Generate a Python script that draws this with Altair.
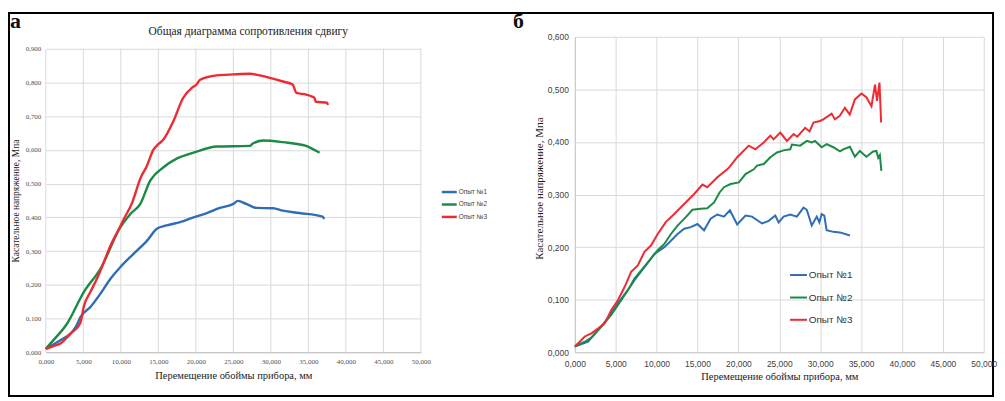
import altair as alt
import pandas as pd

series = ["Опыт №1", "Опыт №2", "Опыт №3"]
colors = ["#2F6DB5", "#1C8A47", "#EE2B33"]

# ---------- panel а (smooth curves) ----------
a1_x = [0, 1.99, 3.32, 4.0, 4.64, 5.97, 7.29, 8.62, 9.95, 11.7, 13.5, 14.8, 16.1, 17.9, 19.7, 21.4, 23.2, 25.0, 25.6, 26.7, 27.2, 28.1, 30.3, 31.6, 33.8, 36.9, 37.1]
a1_y = [0.010, 0.036, 0.056, 0.075, 0.105, 0.135, 0.174, 0.218, 0.253, 0.292, 0.331, 0.366, 0.376, 0.386, 0.400, 0.412, 0.428, 0.440, 0.449, 0.440, 0.435, 0.428, 0.427, 0.420, 0.413, 0.402, 0.395]

a2_x = [0, 0.66, 2.87, 5.08, 7.3, 9.95, 11.27, 12.6, 13.9, 15.65, 17.5, 19.7, 22.8, 27.2, 27.6, 29.0, 31.6, 34.7, 35.8, 36.5]
a2_y = [0.010, 0.027, 0.086, 0.179, 0.248, 0.371, 0.410, 0.440, 0.508, 0.548, 0.575, 0.592, 0.610, 0.612, 0.619, 0.628, 0.623, 0.612, 0.600, 0.592]

a3_x = [0, 1.0, 2.0, 3.3, 4.6, 5.08, 5.97, 6.86, 7.7, 8.6, 9.5, 10.4, 11.5, 12.6, 13.5, 14.33, 14.9, 15.65, 17.0, 18.3, 19.5, 20.1, 20.56, 22.8, 25.0, 27.2, 28.5, 30.0, 31.6, 32.9, 33.4, 34.7, 35.5, 35.8, 36.0, 37.5, 37.6]
a3_y = [0.010, 0.018, 0.027, 0.055, 0.087, 0.137, 0.180, 0.220, 0.265, 0.315, 0.355, 0.395, 0.443, 0.515, 0.554, 0.600, 0.615, 0.630, 0.685, 0.754, 0.785, 0.794, 0.808, 0.821, 0.824, 0.826, 0.821, 0.813, 0.803, 0.794, 0.769, 0.764, 0.758, 0.754, 0.743, 0.740, 0.733]

# ---------- panel б (noisy curves) ----------
b1_x = [0, 1.62, 3.24, 4.45, 5.26, 6.48, 7.29, 8.51, 9.72, 10.94, 11.75, 12.56, 13.37, 14.18, 14.99, 15.8, 16.6, 17.42, 18.23, 18.96, 19.85, 20.87, 21.67, 22.89, 23.7, 24.51, 24.92, 25.53, 26.34, 27.15, 27.96, 28.36, 28.97, 29.58, 29.9, 30.18, 30.5, 30.79, 31.6, 32.42, 33.63]
b1_y = [0.011, 0.020, 0.049, 0.074, 0.093, 0.118, 0.137, 0.162, 0.187, 0.200, 0.212, 0.225, 0.235, 0.238, 0.244, 0.232, 0.254, 0.262, 0.258, 0.270, 0.243, 0.260, 0.258, 0.245, 0.250, 0.260, 0.247, 0.258, 0.262, 0.258, 0.275, 0.271, 0.241, 0.258, 0.247, 0.263, 0.260, 0.232, 0.229, 0.228, 0.222]

b2_x = [0, 1.22, 2.03, 3.24, 4.45, 5.67, 6.48, 7.29, 8.3, 9.31, 10.13, 10.94, 11.75, 12.56, 13.57, 14.38, 15.39, 16.2, 17.02, 17.7, 18.23, 19.04, 20.06, 20.87, 21.88, 22.28, 23.1, 23.9, 24.72, 25.53, 26.34, 26.54, 27.55, 28.36, 28.97, 29.38, 30.18, 30.79, 31.6, 32.42, 32.82, 33.63, 34.24, 34.85, 35.65, 36.47, 36.87, 37.1, 37.3, 37.48]
b2_y = [0.011, 0.020, 0.028, 0.049, 0.071, 0.099, 0.118, 0.140, 0.159, 0.178, 0.194, 0.206, 0.225, 0.241, 0.257, 0.271, 0.273, 0.274, 0.285, 0.304, 0.314, 0.320, 0.323, 0.339, 0.348, 0.355, 0.358, 0.371, 0.380, 0.384, 0.386, 0.395, 0.393, 0.402, 0.399, 0.402, 0.390, 0.396, 0.390, 0.382, 0.386, 0.391, 0.372, 0.383, 0.372, 0.382, 0.383, 0.370, 0.375, 0.345]

b3_x = [0, 0.6, 1.22, 2.03, 2.83, 3.65, 4.45, 5.26, 6.08, 6.88, 7.7, 8.51, 9.31, 10.13, 11.14, 12.16, 13.37, 14.59, 15.6, 16.2, 17.42, 18.64, 19.04, 19.85, 21.27, 22.08, 23.1, 23.9, 24.3, 25.12, 25.93, 26.75, 27.2, 28.16, 28.7, 29.18, 29.98, 30.38, 31.4, 31.8, 32.4, 33.02, 33.62, 34.24, 35.05, 35.65, 36.27, 36.7, 36.95, 37.25, 37.45]
b3_y = [0.011, 0.020, 0.030, 0.036, 0.045, 0.055, 0.080, 0.099, 0.124, 0.153, 0.165, 0.191, 0.203, 0.225, 0.248, 0.263, 0.282, 0.301, 0.319, 0.314, 0.333, 0.348, 0.355, 0.371, 0.393, 0.386, 0.399, 0.412, 0.405, 0.418, 0.402, 0.415, 0.410, 0.427, 0.420, 0.437, 0.440, 0.443, 0.454, 0.443, 0.450, 0.465, 0.452, 0.481, 0.492, 0.485, 0.468, 0.509, 0.478, 0.513, 0.437]

x_ticks = [0, 5, 10, 15, 20, 25, 30, 35, 40, 45, 50]
y_ticks_a = [0, 0.1, 0.2, 0.3, 0.4, 0.5, 0.6, 0.7, 0.8, 0.9]
y_ticks_b = [0, 0.1, 0.2, 0.3, 0.4, 0.5, 0.6]

title_a = "Общая диаграмма сопротивления сдвигу"
x_title = "Перемещение обоймы прибора, мм"
y_title = "Касательное напряжение, Мпа"


def frame(xs, ys, name):
    return pd.DataFrame({"x": xs, "y": ys, "s": name, "o": list(range(len(xs)))})


dfa = pd.concat([frame(a1_x, a1_y, series[0]), frame(a2_x, a2_y, series[1]), frame(a3_x, a3_y, series[2])])
dfb = pd.concat([frame(b1_x, b1_y, series[0]), frame(b2_x, b2_y, series[1]), frame(b3_x, b3_y, series[2])])
one = pd.DataFrame({"k": [0]})

fmt = "replace(format(datum.value, '.3f'), '.', ',')"
SERIF = "Liberation Serif"
SANS = "Liberation Sans"
GRID = "#D9D9D9"
color_enc = alt.Color("s:N", scale=alt.Scale(domain=series, range=colors), legend=None)

# ---------- panel а ----------
W1, H1 = 377, 317
ymax_a = 0.9 * 317 / 305
xs_a = alt.Scale(domain=[0, 50], nice=False, zero=False)
ys_a = alt.Scale(domain=[0, ymax_a], nice=False)

ax_x_a = alt.Axis(
    values=x_ticks, labelExpr=fmt, grid=False, domain=True, domainColor="#BFBFBF",
    ticks=False, labelFont=SERIF, labelFontSize=7, labelColor="#505050", labelPadding=5,
    labelOverlap=False, labelFlush=False, labelBound=False,
    title=x_title, titleFont=SERIF, titleFontSize=10.5, titleFontWeight="normal",
    titleColor="#1a1a1a", titleY=23.5, titleBaseline="middle")
ax_y_a = alt.Axis(
    values=y_ticks_a, labelExpr=fmt, grid=True, gridColor=GRID, domain=False, ticks=False,
    labelFont=SERIF, labelFontSize=7, labelColor="#505050", labelPadding=5,
    labelOverlap=False, labelFlush=False, labelBound=False,
    title=y_title, titleFont=SERIF, titleFontSize=9.5, titleFontWeight="normal",
    titleColor="#1a1a1a", titleX=-30.5, titleY=164.5, titleAngle=270,
    titleBaseline="middle", titleAlign="center")

vgrid_a = alt.Chart(pd.DataFrame({"x": x_ticks})).mark_rule(color=GRID, strokeWidth=1).encode(
    x=alt.X("x:Q", scale=xs_a, axis=ax_x_a),
    y=alt.Y(datum=0, scale=ys_a, axis=ax_y_a),
    y2=alt.datum(0.9),
)

lines_a = alt.Chart(dfa).mark_line(strokeWidth=2.4, interpolate="monotone").encode(
    x=alt.X("x:Q", scale=xs_a, axis=ax_x_a),
    y=alt.Y("y:Q", scale=ys_a, axis=ax_y_a),
    color=color_enc,
    order="o:Q",
)

layers_a = [vgrid_a, lines_a]
layers_a.append(alt.Chart(one).mark_text(text="а", font=SERIF, fontSize=22, fontWeight="bold",
                                         align="center", baseline="alphabetic", color="#111")
                .encode(x=alt.value(-30.5), y=alt.value(-9)))
layers_a.append(alt.Chart(one).mark_text(text=title_a, font=SERIF, fontSize=11.5,
                                         align="center", baseline="alphabetic", color="#222")
                .encode(x=alt.value(203.5), y=alt.value(-2)))
leg_a_y = [156, 168.5, 181]
for name, col, yy in zip(series, colors, leg_a_y):
    layers_a.append(alt.Chart(one).mark_rule(color=col, strokeWidth=2.5)
                    .encode(x=alt.value(398), x2=alt.value(413), y=alt.value(yy)))
    layers_a.append(alt.Chart(one).mark_text(text=name, font=SANS, fontSize=6.5, align="left",
                                             baseline="middle", color="#404040")
                    .encode(x=alt.value(415), y=alt.value(yy)))
# outer frame of the figure
layers_a.append(alt.Chart(one).mark_rect(fillOpacity=0, stroke="#000", strokeWidth=2)
                .encode(x=alt.value(-37), x2=alt.value(952), y=alt.value(-24), y2=alt.value(361)))

panel_a = alt.layer(*layers_a).properties(width=W1, height=H1)

# ---------- panel б ----------
W2, H2 = 411, 317
xs_b = alt.Scale(domain=[0, 50], nice=False, zero=False)
ys_b = alt.Scale(domain=[0, 0.6], nice=False)

lines_b = alt.Chart(dfb).mark_line(strokeWidth=2).encode(
    x=alt.X("x:Q", scale=xs_b, axis=alt.Axis(
        values=x_ticks, labelExpr=fmt, grid=True, gridColor=GRID, domain=True, domainColor="#C8C8C8",
        ticks=False, labelFont=SANS, labelFontSize=8.5, labelColor="#404040", labelPadding=7.5,
        labelOverlap=False, labelFlush=False, labelBound=False,
        title=x_title, titleFont=SERIF, titleFontSize=10.5, titleFontWeight="normal",
        titleColor="#1a1a1a", titleY=24.5, titleBaseline="middle")),
    y=alt.Y("y:Q", scale=ys_b, axis=alt.Axis(
        values=y_ticks_b, labelExpr=fmt, grid=True, gridColor=GRID, domain=True, domainColor="#C8C8C8",
        ticks=False, labelFont=SANS, labelFontSize=8.5, labelColor="#404040", labelPadding=6.5,
        labelOverlap=False, labelFlush=False, labelBound=False,
        title=y_title, titleFont=SERIF, titleFontSize=11, titleFontWeight="normal",
        titleColor="#1a1a1a", titleX=-35.7, titleY=152, titleAngle=270,
        titleBaseline="middle", titleAlign="center")),
    color=color_enc,
    order="o:Q",
)

layers_b = [lines_b]
layers_b.append(alt.Chart(one).mark_text(text="б", font=SERIF, fontSize=22, fontWeight="bold",
                                         align="center", baseline="alphabetic", color="#111")
                .encode(x=alt.value(-56.7), y=alt.value(-9.3)))
leg_b_y = [239.4, 262, 284.4]
for name, col, yy in zip(series, colors, leg_b_y):
    layers_b.append(alt.Chart(one).mark_rule(color=col, strokeWidth=2)
                    .encode(x=alt.value(216.3), x2=alt.value(233.3), y=alt.value(yy)))
    layers_b.append(alt.Chart(one).mark_text(text=name, font=SANS, fontSize=10, align="left",
                                             baseline="middle", color="#333")
                    .encode(x=alt.value(235), y=alt.value(yy)))

panel_b = alt.layer(*layers_b).properties(width=W2, height=H2)

chart = alt.hconcat(panel_a, panel_b, spacing=154.7, bounds="flush").properties(
    padding=0, background="white"
).configure_view(stroke=None)

chart.save("out.html", embed_options={"renderer": "svg", "actions": False})
